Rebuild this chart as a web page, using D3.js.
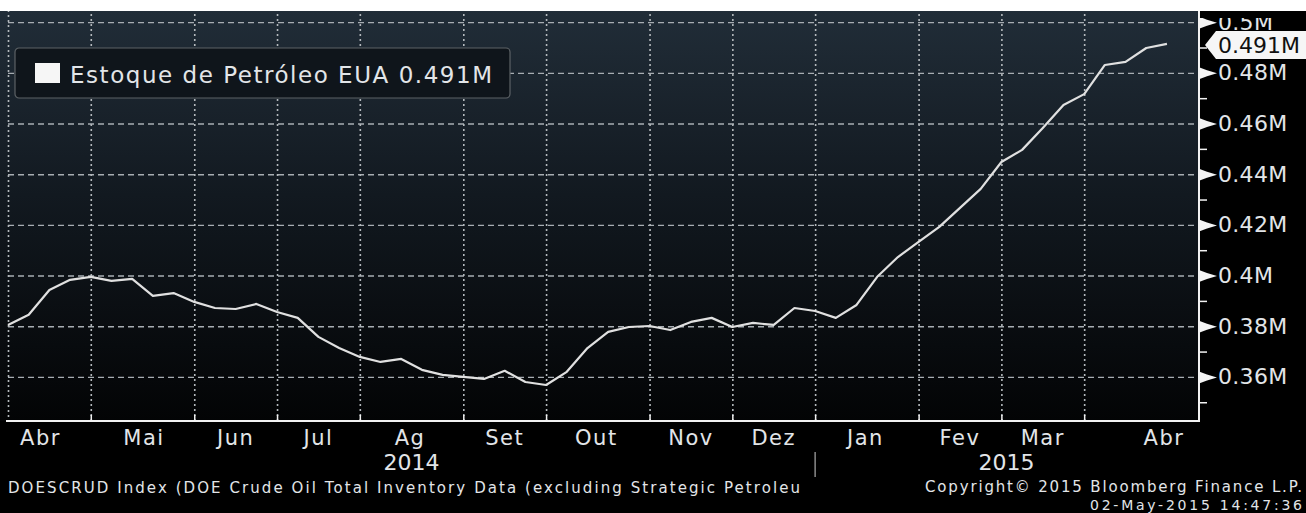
<!DOCTYPE html>
<html>
<head>
<meta charset="utf-8">
<script src="https://cdn.jsdelivr.net/npm/d3@7"></script>
<style>
  body { margin: 0; background: #000; overflow: hidden; }
  text { font-family: "DejaVu Sans", Verdana, sans-serif; }
</style>
</head>
<body>
<div id="chart"></div>
<script>
// weekly observations (week ending Friday)
const weekDates = [
  '2014-04-04','2014-04-11','2014-04-18','2014-04-25',
  '2014-05-02','2014-05-09','2014-05-16','2014-05-23','2014-05-30',
  '2014-06-06','2014-06-13','2014-06-20','2014-06-27',
  '2014-07-04','2014-07-11','2014-07-18','2014-07-25',
  '2014-08-01','2014-08-08','2014-08-15','2014-08-22','2014-08-29',
  '2014-09-05','2014-09-12','2014-09-19','2014-09-26',
  '2014-10-03','2014-10-10','2014-10-17','2014-10-24','2014-10-31',
  '2014-11-07','2014-11-14','2014-11-21','2014-11-28',
  '2014-12-05','2014-12-12','2014-12-19','2014-12-26',
  '2015-01-02','2015-01-09','2015-01-16','2015-01-23','2015-01-30',
  '2015-02-06','2015-02-13','2015-02-20','2015-02-27',
  '2015-03-06','2015-03-13','2015-03-20','2015-03-27',
  '2015-04-03','2015-04-10','2015-04-17','2015-04-24',
  '2015-05-01'
];
const inventory = [
  0.3805, 0.3845, 0.3943, 0.3983,
  0.3995, 0.3979, 0.3987, 0.3920, 0.3931,
  0.3896, 0.3872, 0.3868, 0.3888,
  0.3856, 0.3833, 0.3758, 0.3714,
  0.3679, 0.3659, 0.3671, 0.3628, 0.3608,
  0.3600, 0.3592, 0.3624, 0.3580,
  0.3568, 0.3620, 0.3714, 0.3778, 0.3797,
  0.3801, 0.3785, 0.3817, 0.3833,
  0.3797, 0.3813, 0.3805, 0.3872,
  0.3860, 0.3833, 0.3884, 0.3995, 0.4073,
  0.4133, 0.4192, 0.4267, 0.4342,
  0.4448, 0.4496, 0.4582, 0.4673,
  0.4716, 0.4831, 0.4843, 0.4898,
  0.4914
];
const monthTickDates = ['2014-05-02','2014-06-06','2014-07-04','2014-08-01','2014-09-05','2014-10-03',
  '2014-11-07','2014-12-05','2015-01-02','2015-02-06','2015-03-06','2015-04-03'];
const monthLabels = ['Abr','Mai','Jun','Jul','Ag','Set','Out','Nov','Dez','Jan','Fev','Mar','Abr'];
const monthLabelDates = ['2014-04-15','2014-05-20','2014-06-20','2014-07-18','2014-08-18','2014-09-19',
  '2014-10-20','2014-11-21','2014-12-19','2015-01-19','2015-02-20','2015-03-20','2015-04-30'];
const yearLabels = ['2014','2015'];
const yearStartDate = '2015-01-02';
const yTicks = [0.36, 0.38, 0.40, 0.42, 0.44, 0.46, 0.48, 0.50];
const yMinorTicks = [0.35, 0.37, 0.39, 0.41, 0.43, 0.45, 0.47, 0.49];
const seriesName = 'Estoque de Petróleo EUA';
const lastValue = 0.491;
const footerLeft = 'DOESCRUD Index (DOE Crude Oil Total Inventory Data (excluding Strategic Petroleu';
const footerRight = ['Copyright\u00a9 2015 Bloomberg Finance L.P.', '02-May-2015 14:47:36'];

const parse = d3.timeParse('%Y-%m-%d');
const outerWidth = 1306, outerHeight = 513;
const margin = {left: 8, top: 10, right: 108, bottom: 92};
const width = outerWidth - margin.left - margin.right;
const height = outerHeight - margin.top - margin.bottom;
const fmtM = d => (+d.toFixed(3)) + 'M';
const textColor = '#e2e5e8';

const data = weekDates.map((d, i) => ({x: parse(d), y: inventory[i]}));

const svgRoot = d3.select('#chart').append('svg')
  .attr('width', outerWidth)
  .attr('height', outerHeight)
  .style('display', 'block');

const defs = svgRoot.append('defs');
const grad = defs.append('linearGradient').attr('id', 'bg').attr('x1', 0).attr('y1', 0).attr('x2', 0).attr('y2', 1);
grad.append('stop').attr('offset', '0%').attr('stop-color', '#212d38');
grad.append('stop').attr('offset', '45%').attr('stop-color', '#121920');
grad.append('stop').attr('offset', '100%').attr('stop-color', '#030405');
defs.append('clipPath').attr('id', 'axisClip')
  .append('rect').attr('x', 0).attr('y', 8).attr('width', outerWidth).attr('height', outerHeight);

svgRoot.append('rect').attr('width', outerWidth).attr('height', outerHeight).attr('fill', '#000');

const svg = svgRoot.append('g').attr('transform', `translate(${margin.left}, ${margin.top})`);

svg.append('rect')
  .attr('x', -margin.left).attr('y', 0)
  .attr('width', width + margin.left).attr('height', height)
  .attr('fill', 'url(#bg)');

const x = d3.scaleTime()
  .domain([parse('2014-04-04'), new Date(2015, 4, 11, 12)])
  .range([0, width]);
const y = d3.scaleLinear().domain([0.3426, 0.5048]).range([height, 0]);

// horizontal dashed guides
svg.append('g')
  .call(d3.axisLeft(y).tickValues(yTicks).tickSize(-width).tickFormat(''))
  .call(g => g.select('.domain').remove())
  .call(g => g.selectAll('line')
    .attr('stroke', '#a7adb2')
    .attr('stroke-width', 1.4)
    .attr('stroke-dasharray', '6,4'));

// vertical dotted guides
svg.append('g')
  .attr('transform', `translate(0, ${height})`)
  .call(d3.axisBottom(x).tickValues(monthTickDates.map(parse)).tickSize(-height).tickFormat(''))
  .call(g => g.select('.domain').remove())
  .call(g => g.selectAll('line')
    .attr('stroke', '#b4b9bd')
    .attr('stroke-width', 1.6)
    .attr('stroke-dasharray', '2,3'));
svg.append('line')
  .attr('x1', 0.5).attr('x2', 0.5).attr('y1', 0).attr('y2', height)
  .attr('stroke', '#b4b9bd').attr('stroke-width', 1.6).attr('stroke-dasharray', '2,3');

// series line
svg.append('path')
  .datum(data)
  .attr('fill', 'none')
  .attr('stroke', '#e0e0e0')
  .attr('stroke-width', 2.2)
  .attr('stroke-linejoin', 'round')
  .attr('d', d3.line().x(d => x(d.x)).y(d => y(d.y)));

// bottom axis
svg.append('g')
  .attr('transform', `translate(0, ${height})`)
  .call(d3.axisBottom(x).tickValues(monthTickDates.map(parse)).tickSize(-6).tickFormat('').tickSizeOuter(0))
  .call(g => g.select('.domain').attr('stroke', '#f2f2f2').attr('stroke-width', 2)
    .attr('d', `M${-2},0H${width + 2}`))
  .call(g => g.selectAll('.tick line').attr('stroke', '#f2f2f2').attr('stroke-width', 1.5));

svg.append('g')
  .selectAll('text')
  .data(monthLabels)
  .join('text')
  .attr('x', (d, i) => x(parse(monthLabelDates[i])))
  .attr('y', height + 24)
  .attr('text-anchor', 'middle')
  .attr('fill', textColor)
  .style('font-size', '21px')
  .style('letter-spacing', '1.5px')
  .text(d => d);

const yearX = x(parse(yearStartDate));
svg.append('g')
  .selectAll('text')
  .data(yearLabels)
  .join('text')
  .attr('x', (d, i) => i === 0 ? yearX / 2 : (yearX + width) / 2)
  .attr('y', height + 49)
  .attr('text-anchor', 'middle')
  .attr('fill', textColor)
  .style('font-size', '22px')
  .text(d => d);
svg.append('line')
  .attr('x1', yearX).attr('x2', yearX)
  .attr('y1', height + 31).attr('y2', height + 56)
  .attr('stroke', '#8a8a8a').attr('stroke-width', 1.5);

// right axis
const rightAxis = svg.append('g')
  .attr('transform', `translate(${width + 1}, 0)`);
rightAxis.append('line')
  .attr('y1', 0).attr('y2', height + 1)
  .attr('stroke', '#f2f2f2').attr('stroke-width', 2);
rightAxis.append('g')
  .call(d3.axisRight(y).tickValues(yMinorTicks).tickSize(8).tickFormat(''))
  .call(g => g.select('.domain').remove())
  .call(g => g.selectAll('line').attr('stroke', '#f2f2f2').attr('stroke-width', 1.5));
rightAxis.append('g')
  .attr('clip-path', 'url(#axisClip)')
  .call(d3.axisRight(y).tickValues(yTicks).tickSize(0).tickPadding(19).tickFormat(fmtM))
  .call(g => g.select('.domain').remove())
  .call(g => g.selectAll('text')
    .attr('fill', textColor)
    .style('font-size', '22px')
    .style('letter-spacing', '0.3px')
    .style('font-family', '"DejaVu Sans", Verdana, sans-serif'))
  .call(g => g.selectAll('.tick').append('path')
    .attr('d', 'M0,-6L8,-3L18,0L8,3L0,6Z')
    .attr('fill', '#f4f4f4'));

// last value flag
const ly = y(lastValue);
rightAxis.append('path')
  .attr('d', `M6,${ly}L17,${ly - 14}H${margin.right}V${ly + 14}H17Z`)
  .attr('fill', '#f6f6f6');
rightAxis.append('text')
  .attr('x', 19)
  .attr('y', ly)
  .attr('dy', '0.36em')
  .attr('fill', '#111')
  .style('font-size', '22px')
  .text(fmtM(lastValue));

// legend
const legend = svg.append('g').attr('transform', 'translate(7, 38)');
legend.append('rect')
  .attr('width', 495).attr('height', 50).attr('rx', 4)
  .attr('fill', '#0f151b').attr('stroke', '#5d6266').attr('stroke-width', 1.2);
legend.append('rect')
  .attr('x', 20).attr('y', 15).attr('width', 25).attr('height', 20)
  .attr('fill', '#f6f6f6');
legend.append('text')
  .attr('x', 55).attr('y', 35)
  .attr('fill', textColor)
  .attr('textLength', 422)
  .attr('lengthAdjust', 'spacing')
  .style('font-size', '23px')
  .text(`${seriesName} ${fmtM(lastValue)}`);

// footer
svgRoot.append('text')
  .attr('x', 8).attr('y', 493)
  .attr('fill', textColor)
  .attr('textLength', 792)
  .attr('lengthAdjust', 'spacing')
  .style('font-size', '15px')
  .text(footerLeft);
svgRoot.append('g')
  .selectAll('text')
  .data(footerRight)
  .join('text')
  .attr('x', (d, i) => i === 0 ? 925 : 1090)
  .attr('y', (d, i) => i === 0 ? 492 : 510)
  .attr('fill', textColor)
  .attr('textLength', (d, i) => i === 0 ? 377 : 212)
  .attr('lengthAdjust', 'spacing')
  .style('font-size', (d, i) => i === 0 ? '15px' : '14px')
  .text(d => d);

// white strip at the top
svgRoot.append('rect').attr('width', outerWidth).attr('height', margin.top + 1).attr('fill', '#fff');
</script>
</body>
</html>
